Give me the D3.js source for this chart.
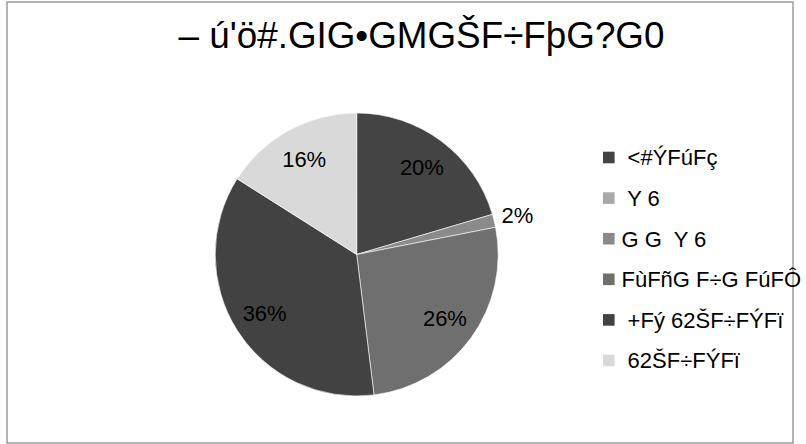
<!DOCTYPE html>
<html>
<head>
<meta charset="utf-8">
<script src="https://cdn.jsdelivr.net/npm/d3@7"></script>
<style>
  html, body { margin: 0; padding: 0; background: #fff; }
  svg { display: block; }
  text { font-family: "Liberation Sans", Arial, sans-serif; white-space: pre; }
</style>
</head>
<body>
<svg id="chart" width="806" height="444"></svg>
<script>
const title = "– ú'ö#.GIG•GMGŠF÷FþG?G0";
const categories = [" <#ÝFúFç", " Y 6", "G G  Y 6", "FùFñG F÷G FúFÔ", " +Fý 62ŠF÷FÝFï", " 62ŠF÷FÝFï"];
const values = [20.4, 0, 1.5, 26.1, 35.9, 16.0];
const colors = ["#444444", "#a9a9a9", "#8a8a8a", "#6f6f6f", "#424242", "#d9d9d9"];

const svg = d3.select("#chart");
const W = 806, H = 444;

svg.append("rect").attr("x", 0).attr("y", 0).attr("width", W).attr("height", H).attr("fill", "#fff");
svg.append("rect")
  .attr("x", 7).attr("y", 2).attr("width", 786).attr("height", 441)
  .attr("fill", "none").attr("stroke", "#9c9c9c").attr("stroke-width", 1.5);

svg.append("text")
  .attr("x", 421.5).attr("y", 47.5)
  .attr("text-anchor", "middle")
  .attr("font-size", 36.8)
  .attr("fill", "#000")
  .text(title);

const cx = 356.7, cy = 254.5, r = 141.5;
const total = d3.sum(values);
const data = categories.map((c, i) => ({ cat: c, value: values[i], color: colors[i] }));

const pie = d3.pie().value(d => d.value).sort(null);
const arcs = pie(data);
const arc = d3.arc().innerRadius(0).outerRadius(r);
const labelArc = d3.arc().innerRadius(r * 0.77).outerRadius(r * 0.77);
const outerArc = d3.arc().innerRadius(r * 1.17).outerRadius(r * 1.17);

const g = svg.append("g").attr("transform", `translate(${cx},${cy})`);
g.selectAll("path.slice")
  .data(arcs.filter(a => a.data.value > 0))
  .join("path")
  .attr("class", "slice")
  .attr("d", arc)
  .attr("fill", d => d.data.color)
  .attr("stroke", "#ffffff")
  .attr("stroke-width", 0.6);

g.selectAll("text.lbl")
  .data(arcs.filter(a => a.data.value > 0))
  .join("text")
  .attr("class", "lbl")
  .attr("transform", d => {
    const p = (d.data.value / total < 0.05 ? outerArc : labelArc).centroid(d);
    return `translate(${p[0]},${p[1]})`;
  })
  .attr("text-anchor", "middle")
  .attr("dy", "0.36em")
  .attr("font-size", 22)
  .attr("fill", "#000")
  .text(d => Math.round(d.data.value / total * 100) + "%");

const lg = svg.append("g").attr("transform", "translate(603,157.5)");
const rows = lg.selectAll("g.row").data(data).join("g")
  .attr("class", "row")
  .attr("transform", (d, i) => `translate(0,${i * 40.6})`);
rows.append("rect")
  .attr("x", 0).attr("y", -5.8).attr("width", 11.6).attr("height", 11.6)
  .attr("fill", d => d.color);
rows.append("text")
  .attr("x", 18.5).attr("y", 0).attr("dy", "0.36em")
  .attr("font-size", 22)
  .attr("fill", "#000")
  .text(d => d.cat);
</script>
</body>
</html>
